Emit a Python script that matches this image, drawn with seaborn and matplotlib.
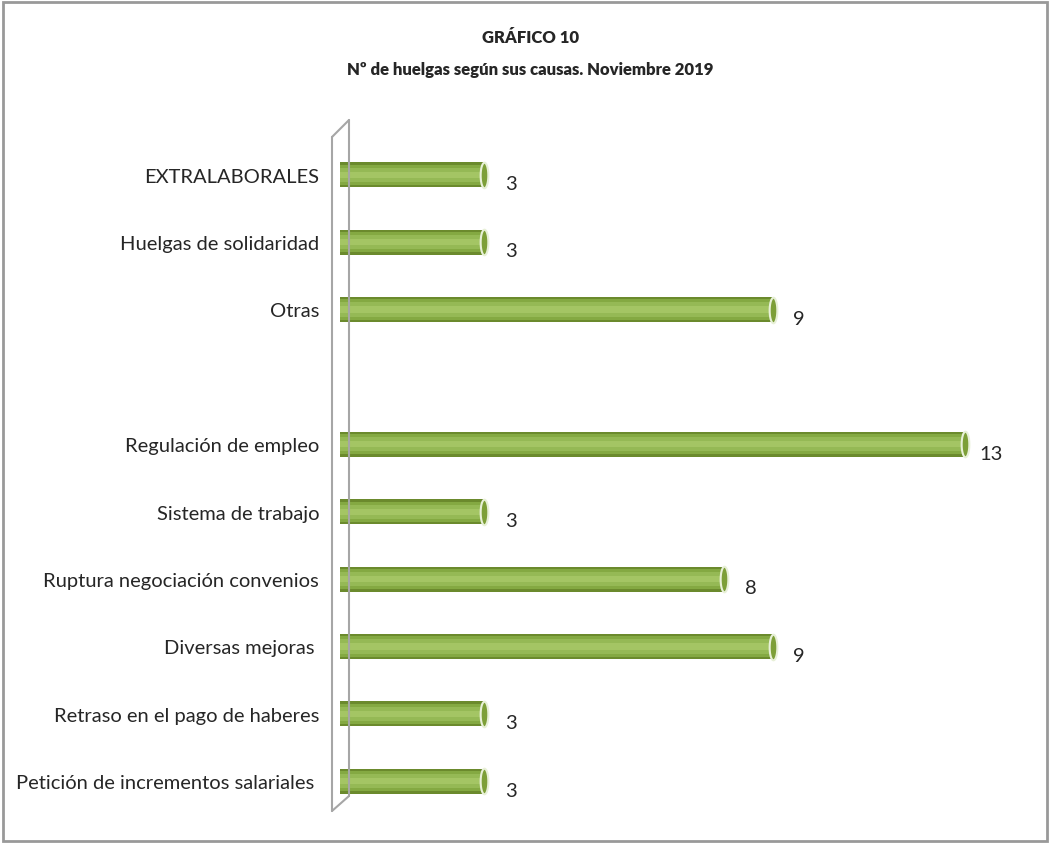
import matplotlib
matplotlib.use('Agg')
import numpy as np
import pandas as pd
import matplotlib.pyplot as plt
import seaborn as sns
from matplotlib.lines import Line2D
from matplotlib.patches import Rectangle

# data
causas = ['EXTRALABORALES', 'Huelgas de solidaridad', 'Otras', ' ',
          'Regulación de empleo', 'Sistema de trabajo',
          'Ruptura negociación convenios', 'Diversas mejoras ',
          'Retraso en el pago de haberes', 'Petición de incrementos salariales ']
huelgas = [3, 3, 9, np.nan, 13, 3, 8, 9, 3, 3]

df = pd.DataFrame({'causa': causas, 'huelgas': huelgas})

sns.set_style('white')
plt.rcParams['font.family'] = ['Lato', 'DejaVu Sans']

fig = plt.figure(figsize=(10.5, 8.45), dpi=100)
ax = fig.add_axes([340/1050, 1-816/845, 680/1050, 674/845])

# cylinder look: dark body, lighter middle, highlight stripe
layers = [('#6b8a2d', 0.37), ('#84a942', 0.30), ('#95b955', 0.21), ('#a4c564', 0.09)]
for c, w in layers:
    sns.barplot(data=df, x='huelgas', y='causa', order=causas, orient='h',
                color=c, width=w, saturation=1, linewidth=0, ax=ax, zorder=3)

# end caps (thin ellipse)
t = np.linspace(0, 2*np.pi, 60)
ellipse = np.column_stack([0.3*np.cos(t), np.sin(t)])
caps = df.dropna()
ax.scatter(caps['huelgas'], [causas.index(c) for c in caps['causa']],
           marker=ellipse, s=340, color='#7d9f38', edgecolor='#e8f0d8',
           linewidth=1.5, zorder=6, clip_on=False)

ax.set_xlim(0, 14.15)
ax.set_ylim(9.5, -0.5)
ax.set_xlabel('')
ax.set_ylabel('')
ax.set_xticks([])
for s in ax.spines.values():
    s.set_visible(False)
ax.tick_params(axis='y', length=0, pad=15, labelsize=14.5)

# value labels
for i, v in enumerate(huelgas):
    if not np.isnan(v):
        ax.text(v + 0.55, i + 0.13, '{:.0f}'.format(v), ha='center', va='center',
                fontsize=14.5, zorder=7)

# 3D wall on the left
wall = [((332, 138), (332, 812)), ((332, 138), (349, 121)),
        ((349, 121), (349, 797)), ((332, 812), (349, 797))]
for (x0, y0), (x1, y1) in wall:
    fig.add_artist(Line2D([x0/1050, x1/1050], [1-y0/845, 1-y1/845],
                          color='#a6a6a6', lw=1.5, zorder=1))

# outer frame
fig.add_artist(Rectangle((3/1050, 3/845), 1044/1050, 839/845, fill=False,
                         edgecolor='#999999', lw=2, transform=fig.transFigure))

fig.text(0.505, 1-38/845, 'GRÁFICO 10', ha='center', va='center',
         fontsize=12, fontweight='heavy')
fig.text(0.505, 1-70/845, 'Nº de huelgas según sus causas. Noviembre 2019',
         ha='center', va='center', fontsize=12, fontweight='heavy')

fig.savefig('out.png', dpi=100)
